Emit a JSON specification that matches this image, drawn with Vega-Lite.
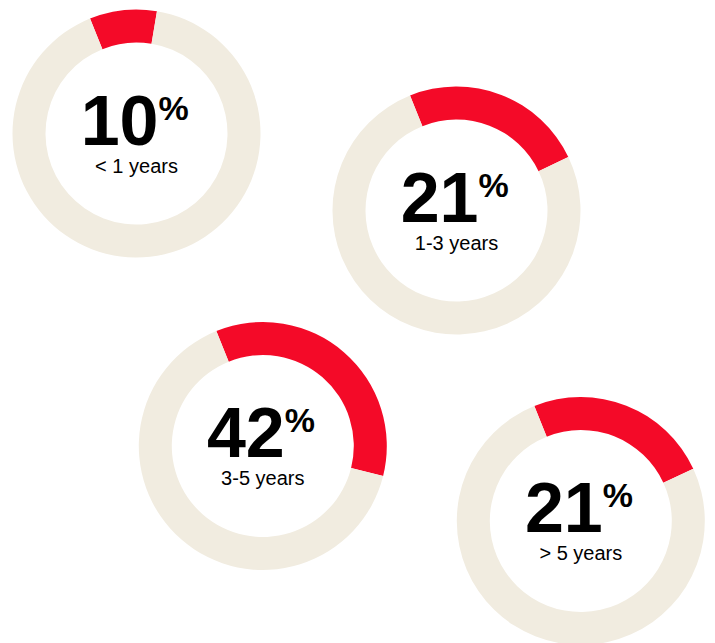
{
  "$schema": "https://vega.github.io/schema/vega-lite/v6.json",
  "width": 715,
  "height": 643,
  "padding": 0,
  "autosize": {"type": "none"},
  "background": "#ffffff",
  "config": {"view": {"stroke": null}},
  "datasets": {
    "segments": [
      {"donut": "< 1 years", "cx": 136.5, "cy": 133.5, "part": "share", "from": 0, "to": 8.75},
      {"donut": "< 1 years", "cx": 136.5, "cy": 133.5, "part": "rest", "from": 8.75, "to": 100},
      {"donut": "1-3 years", "cx": 456.5, "cy": 210.5, "part": "share", "from": 0, "to": 24},
      {"donut": "1-3 years", "cx": 456.5, "cy": 210.5, "part": "rest", "from": 24, "to": 100},
      {"donut": "3-5 years", "cx": 262.8, "cy": 446, "part": "share", "from": 0, "to": 35},
      {"donut": "3-5 years", "cx": 262.8, "cy": 446, "part": "rest", "from": 35, "to": 100},
      {"donut": "> 5 years", "cx": 580.8, "cy": 521, "part": "share", "from": 0, "to": 24.2},
      {"donut": "> 5 years", "cx": 580.8, "cy": 521, "part": "rest", "from": 24.2, "to": 100}
    ],
    "labels": [
      {"donut": "< 1 years", "cx": 136.5, "cy": 133.5, "value": "10", "pct": "%"},
      {"donut": "1-3 years", "cx": 456.5, "cy": 210.5, "value": "21", "pct": "%"},
      {"donut": "3-5 years", "cx": 262.8, "cy": 446, "value": "42", "pct": "%"},
      {"donut": "> 5 years", "cx": 580.8, "cy": 521, "value": "21", "pct": "%"}
    ]
  },
  "encoding": {
    "x": {"field": "cx", "type": "quantitative", "scale": {"domain": [0, 715], "range": [0, 715], "zero": false, "nice": false}, "axis": null},
    "y": {"field": "cy", "type": "quantitative", "scale": {"domain": [0, 643], "range": [0, 643], "zero": false, "nice": false}, "axis": null}
  },
  "layer": [
    {
      "data": {"name": "segments"},
      "mark": {"type": "arc", "outerRadius": 124, "innerRadius": 91},
      "encoding": {
        "theta": {"field": "from", "type": "quantitative", "scale": {"domain": [0, 100], "range": [-0.384, 5.899], "zero": false, "nice": false}},
        "theta2": {"field": "to"},
        "color": {"field": "part", "type": "nominal", "scale": {"domain": ["share", "rest"], "range": ["#F40A28", "#F1ECE0"]}, "legend": null}
      }
    },
    {
      "data": {"name": "labels"},
      "mark": {"type": "text", "align": "right", "baseline": "alphabetic", "dx": 22, "dy": 11, "font": "Liberation Sans", "fontSize": 70, "fontWeight": "bold", "color": "#000000"},
      "encoding": {"text": {"field": "value"}}
    },
    {
      "data": {"name": "labels"},
      "mark": {"type": "text", "align": "left", "baseline": "alphabetic", "dx": 22, "dy": -14, "font": "Liberation Sans", "fontSize": 34, "fontWeight": "bold", "color": "#000000"},
      "encoding": {"text": {"field": "pct"}}
    },
    {
      "data": {"name": "labels"},
      "mark": {"type": "text", "align": "center", "baseline": "alphabetic", "dy": 39, "font": "Liberation Sans", "fontSize": 20, "color": "#000000"},
      "encoding": {"text": {"field": "donut"}}
    }
  ]
}
